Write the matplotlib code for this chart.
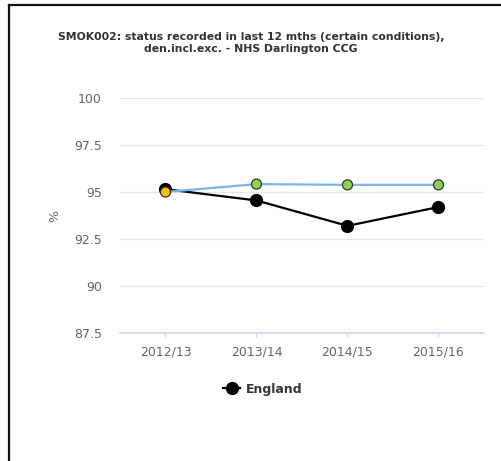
import numpy as np
import matplotlib
matplotlib.use("Agg")
import matplotlib.pyplot as plt
from matplotlib.lines import Line2D

# chart data
categories = ["2012/13", "2013/14", "2014/15", "2015/16"]
england = [95.15, 94.55, 93.2, 94.2]
ccg = [95.0, 95.42, 95.38, 95.38]
ccg_colors = ["#ffc000", "#92d050", "#92d050", "#92d050"]
y_ticks = [87.5, 90, 92.5, 95, 97.5, 100]
y_tick_labels = ["87.5", "90", "92.5", "95", "97.5", "100"]

title = ("SMOK002: status recorded in last 12 mths (certain conditions),\n"
         "den.incl.exc. - NHS Darlington CCG")


def main() -> None:
    fig = plt.figure(figsize=(5.02, 4.61), dpi=100)
    ax = fig.add_axes([120 / 502, 1 - 333 / 461, 364 / 502, 235 / 461])

    x = np.arange(len(categories))

    # England comparator, drawn underneath
    ax.plot(x, england, color="black", linewidth=1.6, marker="o",
            markersize=8.5, markerfacecolor="black", markeredgecolor="black",
            zorder=3)

    # CCG line with per-point coloured markers
    ax.plot(x, ccg, color="#7cb5ec", linewidth=1.6, zorder=4)
    ax.scatter(x, ccg, s=52, c=ccg_colors, edgecolors="#333333",
               linewidths=0.9, zorder=5)

    ax.set_xlim(-0.5, len(categories) - 0.5)
    ax.set_ylim(87.5, 100)
    ax.set_yticks(y_ticks)
    ax.set_yticklabels(y_tick_labels)
    ax.set_xticks(x)
    ax.set_xticklabels(categories)

    ax.grid(axis="y", color="#e6e6e6", linewidth=1)
    ax.set_axisbelow(True)
    for side in ["top", "right", "left"]:
        ax.spines[side].set_visible(False)
    ax.spines["bottom"].set_color("#ccd6eb")
    ax.spines["bottom"].set_linewidth(1.2)

    ax.tick_params(axis="y", length=0, pad=13, labelsize=9, labelcolor="#666666")
    ax.tick_params(axis="x", length=3, color="#ccd6eb", pad=6, labelsize=9,
                   labelcolor="#666666")
    ax.set_ylabel("%", color="#666666", fontsize=9, labelpad=9)

    fig.text(0.5, 1 - 43 / 461, title, ha="center", va="center",
             fontsize=7.8, fontweight="bold", color="#333333", linespacing=1.35)

    handle = Line2D([], [], color="black", linewidth=1.6, marker="o",
                    markersize=8.5)
    fig.legend([handle], ["England"], loc="center",
               bbox_to_anchor=(263 / 502, 1 - 389 / 461), frameon=False,
               handlelength=1.3, handletextpad=0.5,
               prop={"weight": "bold", "size": 9}, labelcolor="#333333")

    # outer frame: top and left edge only
    fig.add_artist(Line2D([9 / 502, 1.0], [1 - 5 / 461, 1 - 5 / 461],
                          color="#111111", linewidth=1.6,
                          transform=fig.transFigure))
    fig.add_artist(Line2D([9 / 502, 9 / 502], [0.0, 1 - 5 / 461],
                          color="#111111", linewidth=1.6,
                          transform=fig.transFigure))

    fig.savefig("out.png", dpi=100)
    plt.close(fig)


if __name__ == "__main__":
    main()
